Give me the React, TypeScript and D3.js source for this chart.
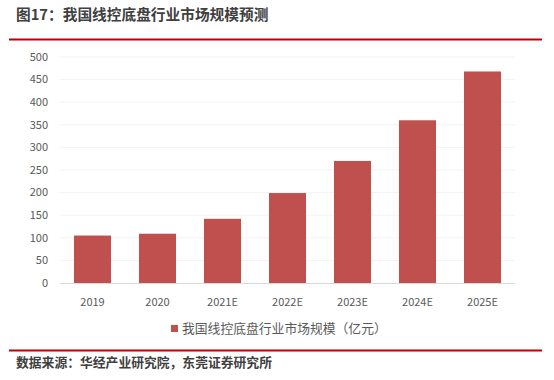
import React from "react";
import * as d3 from "d3";

const categories = ["2019", "2020", "2021E", "2022E", "2023E", "2024E", "2025E"];
const values = [105, 109, 142, 199, 270, 360, 468];
const yTicks = [0, 50, 100, 150, 200, 250, 300, 350, 400, 450, 500];
const title = "图17：我国线控底盘行业市场规模预测";
const legendLabel = "我国线控底盘行业市场规模（亿元）";
const source = "数据来源：华经产业研究院，东莞证券研究所";

export default function App() {
  const W = 554, H = 380;
  const x = d3.scaleBand<string>().domain(categories).range([60, 515]).paddingInner(0.43).paddingOuter(0.215);
  const y = d3.scaleLinear().domain([0, 500]).range([283, 57]);
  const font = "'Noto Sans CJK SC', 'Liberation Sans', sans-serif";
  return (
    <svg width={W} height={H} style={{ position: "absolute", left: 0, top: 0, background: "#fff" }} fontFamily={font}>
      <text x={16} y={20} fontSize={14.7} fontWeight="bold" fill="#404040">{title}</text>
      <line x1={9} x2={542} y1={39.5} y2={39.5} stroke="#C00000" strokeWidth={2} />
      {yTicks.map((t) => (
        <g key={t}>
          {t > 0 && <line x1={60} x2={515} y1={y(t)} y2={y(t)} stroke="#f3f3f3" strokeWidth={1} />}
          <text x={48} y={y(t)} dy="0.35em" textAnchor="end" fontSize={11} fill="#595959">{t}</text>
        </g>
      ))}
      {categories.map((c, i) => (
        <rect key={c} x={x(c)} y={y(values[i])} width={x.bandwidth()} height={y(0) - y(values[i])} fill="#C0504D" />
      ))}
      <line x1={60} x2={515} y1={283.5} y2={283.5} stroke="#d9d9d9" strokeWidth={1} />
      {categories.map((c) => (
        <text key={c} x={(x(c) as number) + x.bandwidth() / 2} y={302} dy="0.35em" textAnchor="middle" fontSize={11} fill="#595959">{c}</text>
      ))}
      <rect x={171} y={325} width={7} height={7} fill="#C0504D" />
      <text x={182} y={328.5} dy="0.35em" fontSize={12.8} fill="#595959">{legendLabel}</text>
      <line x1={9} x2={542} y1={350.5} y2={350.5} stroke="#C00000" strokeWidth={2} />
      <text x={16} y={367} fontSize={12.8} fontWeight="bold" fill="#404040">{source}</text>
    </svg>
  );
}
